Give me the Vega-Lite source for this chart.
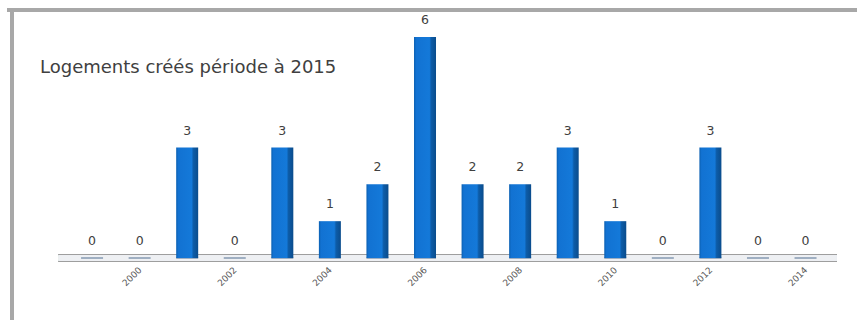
{
  "$schema": "https://vega.github.io/schema/vega-lite/v6.json",
  "width": 850,
  "height": 310,
  "autosize": {"type": "none"},
  "padding": {"left": 7, "top": 10, "right": 0, "bottom": 0},
  "background": "white",
  "config": {
    "view": {"stroke": null},
    "font": "DejaVu Sans"
  },
  "title": {
    "text": "Logements créés période à 2015",
    "anchor": "start",
    "frame": "group",
    "orient": "top",
    "baseline": "middle",
    "offset": 0,
    "dx": 33,
    "dy": 77,
    "fontSize": 18,
    "fontWeight": "normal",
    "color": "#404040"
  },
  "data": {
    "values": [
      {"annee": 1999, "logements": 0},
      {"annee": 2000, "logements": 0},
      {"annee": 2001, "logements": 3},
      {"annee": 2002, "logements": 0},
      {"annee": 2003, "logements": 3},
      {"annee": 2004, "logements": 1},
      {"annee": 2005, "logements": 2},
      {"annee": 2006, "logements": 6},
      {"annee": 2007, "logements": 2},
      {"annee": 2008, "logements": 2},
      {"annee": 2009, "logements": 3},
      {"annee": 2010, "logements": 1},
      {"annee": 2011, "logements": 0},
      {"annee": 2012, "logements": 3},
      {"annee": 2013, "logements": 0},
      {"annee": 2014, "logements": 0}
    ]
  },
  "layer": [
    {
      "mark": {"type": "text", "dy": -17, "fontSize": 12.5, "color": "#404040", "baseline": "middle"},
      "encoding": {
        "x": {
          "field": "annee",
          "type": "quantitative",
          "scale": {"domain": [1997.317, 2014.977], "nice": false, "zero": false},
          "axis": {
            "title": null,
            "values": [2000, 2002, 2004, 2006, 2008, 2010, 2012, 2014],
            "format": "d",
            "labelAngle": -45,
            "labelAlign": "right",
            "labelBaseline": "middle",
            "labelPadding": 10,
            "labelFontSize": 9,
            "labelColor": "#595959",
            "domain": false,
            "ticks": false,
            "grid": false,
            "offset": -62,
            "labelFlush": false,
            "labelOverlap": false
          }
        },
        "y": {
          "field": "logements",
          "type": "quantitative",
          "scale": {"domain": [-1.683, 6.733], "nice": false, "zero": false},
          "axis": null
        },
        "text": {"field": "logements", "type": "quantitative"}
      }
    },
    {
      "mark": {"type": "rule", "color": "#a8a8a8", "strokeWidth": 3},
      "encoding": {"y": {"datum": 6.733}}
    },
    {
      "mark": {"type": "rule", "color": "#a8a8a8", "strokeWidth": 3},
      "encoding": {"x": {"datum": 1997.317}}
    },
    {
      "mark": {"type": "rule", "color": "#9e9e9e", "strokeWidth": 7},
      "encoding": {
        "x": {"datum": 1998.3},
        "x2": {"datum": 2014.65},
        "y": {"datum": 0}
      }
    },
    {
      "mark": {"type": "rule", "color": "#eef0f3", "strokeWidth": 5},
      "encoding": {
        "x": {"datum": 1998.3},
        "x2": {"datum": 2014.65},
        "y": {"datum": 0}
      }
    },
    {
      "mark": {"type": "tick", "orient": "horizontal", "size": 22, "thickness": 2, "color": "#7d93ad"},
      "encoding": {
        "x": {"field": "annee", "type": "quantitative"},
        "y": {"datum": 0}
      }
    },
    {
      "mark": {
        "type": "bar",
        "width": 22,
        "fill": {
          "gradient": "linear",
          "x1": 0, "y1": 0, "x2": 1, "y2": 0,
          "stops": [
            {"offset": 0, "color": "#0b60b2"},
            {"offset": 0.1, "color": "#1272d2"},
            {"offset": 0.7, "color": "#1479d9"},
            {"offset": 0.78, "color": "#0d5ca8"},
            {"offset": 1, "color": "#0a4c8c"}
          ]
        }
      },
      "encoding": {
        "x": {"field": "annee", "type": "quantitative"},
        "y": {"field": "logements", "type": "quantitative"},
        "y2": {"datum": 0}
      }
    }
  ]
}
